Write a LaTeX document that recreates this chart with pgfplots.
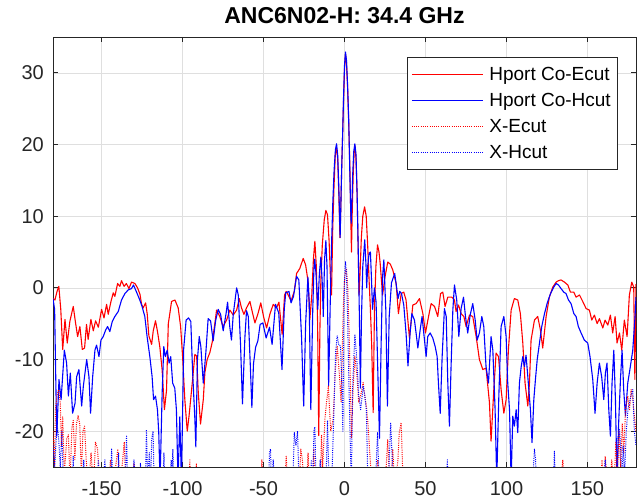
\documentclass[border=0pt]{standalone}
\usepackage{pgfplots}
\pgfplotsset{compat=1.18}
\usepackage{fontspec}
\setmainfont{Liberation Sans}
\definecolor{axgray}{RGB}{38,38,38}
\definecolor{gridgray}{RGB}{223,223,223}
\begin{document}
\begin{tikzpicture}
\begin{axis}[
 width=583pt, height=430pt, scale only axis,
 xmin=-180, xmax=180, ymin=-25, ymax=35,
 xtick={-150,-100,...,150}, ytick={-20,-10,...,30},
 grid=major, major grid style={gridgray, line width=0.6pt},
 axis line style={axgray, line width=0.7pt},
 tick style={axgray, line width=0.7pt},
 tick align=inside, major tick length=5pt,
 ticklabel style={font=\fontsize{20}{24}\selectfont, text=axgray},
 /pgf/number format/assume math mode=true,
 xticklabel style={inner sep=0pt, yshift=-14pt},
 yticklabel style={inner sep=0pt, xshift=-9pt},
 title={ANC6N02-H: 34.4 GHz},
 title style={font=\bfseries\fontsize{23}{27}\selectfont, at={(0.5,1)}, anchor=base, yshift=7pt, inner sep=0pt},
 legend style={at={(0.607,0.953)}, anchor=north west, draw=axgray, line width=0.7pt, fill=white,
   inner xsep=4pt, inner ysep=4pt, row sep=0pt, column sep=3pt,
   font=\fontsize{19}{22}\selectfont,
   nodes={inner xsep=3pt, inner ysep=5pt, text height=14pt, text depth=2pt}},
 legend cell align=left,
 legend image code/.code={\path (0pt,0pt) -- (9pt,0pt); \draw[#1] (9pt,0pt) -- (71pt,0pt);},
]
\addplot[color=red, line width=1.1pt, line join=round] coordinates {
(-180,-1.5)(-178.8,-1.7)(-177.5,-0.5)(-176.4,0.2)(-175.2,-3)(-174,-8.6)(-172.6,-4.4)(-171.2,-7.7)(-169.6,-4.7)(-167.5,-2.6)
(-166,-5)(-164.8,-6.8)(-163.4,-5.4)(-161.9,-8.6)(-160.5,-8.4)(-159.3,-5.1)(-158.3,-7.2)(-156.6,-4.4)(-155.1,-6)(-153.7,-4.6)
(-152,-5.5)(-150,-3)(-148.5,-4.2)(-146.9,-2.3)(-145.9,-3.7)(-144.2,-1.9)(-142.8,-0.7)(-141.8,-1.2)(-140.1,0.6)(-138.7,0.2)
(-137.7,1.0)(-136.1,0.2)(-134.7,0.6)(-133.1,-0.1)(-131.5,0.8)(-129.4,0.6)(-127.8,0)(-126.3,-0.9)(-125.3,-2.3)(-124.3,-2.8)
(-122.8,-2.1)(-121.8,-3.7)(-120.8,-6.7)(-119.1,-7.9)(-118.1,-6)(-116.7,-4.6)(-115.4,-6.2)(-114,-8.3)(-112.6,-11.5)(-111.2,-17)
(-109.9,-14.3)(-108.8,-5)(-107.8,-3.5)(-106.8,-1.9)(-104.7,-1.7)(-102.7,-2.8)(-101.2,-5.4)(-100,-9.5)(-98.6,-15.6)(-97.1,-20)
(-96,-17.9)(-94.4,-14.2)(-93.4,-11.8)(-92.4,-9.3)(-91.3,-9.5)(-90.3,-14.6)(-88.9,-19)(-87.2,-15.6)(-86.2,-11.8)(-84.8,-10)
(-83.1,-9)(-81.7,-7.6)(-80,-4.9)(-79,-3.1)(-77,-4)(-75,-5.4)(-72.8,-4.5)(-70.8,-3.1)(-68.7,-3.8)(-66.6,-3.1)
(-65,-1.5)(-63.6,-2.8)(-62.1,-3.7)(-60.5,-2.8)(-58.4,-1.9)(-56.8,-3.5)(-55.3,-4.9)(-53.3,-3.5)(-51.7,-2.1)(-49.8,-4.2)
(-48.1,-5.6)(-46.1,-3.7)(-44,-2.3)(-42,-2.8)(-40.5,-2.0)(-38.5,-6.5)(-37,-1)(-36,-0.5)(-34.8,-1)(-33,-1.8)
(-31,-0.5)(-29.6,2.0)(-27.6,2.7)(-25.5,4.1)(-24,3.2)(-22.4,0.7)(-21.4,-4.4)(-20.2,-1)(-19.2,4)(-18.3,6.5)
(-17.4,3)(-16.6,-5)(-15.9,-20.6)(-15.2,-6)(-14.6,1)(-13.7,6)(-12.5,9.5)(-11.5,10.8)(-10.5,10.2)(-9.5,6.5)
(-8.7,1.5)(-8,-1)(-7.3,8)(-6.5,14)(-5.7,18.5)(-4.9,19.5)(-4.2,18)(-3.5,13)(-2.8,7)(-2.3,11)
(-1.7,17)(-1.2,21)(-0.6,26)(0,30.5)(0.6,32.6)(1.2,31.5)(1.9,28)(2.6,23)(3.3,17)(3.8,11)
(4.3,5)(4.8,11)(5.4,16)(6,19)(6.5,19.8)(7.1,18)(7.8,13)(8.4,6)(9,-1)(9.6,2)
(10.4,7)(11.3,10)(12.4,11.3)(13.4,10)(14.3,6)(15.2,1)(16,-3)(16.8,-8)(17.7,-17.4)(18.5,-3)
(19.4,3)(20.4,6)(21.3,5)(22,3.5)(23.5,-1)(25,1.5)(26.7,3.6)(28.3,3.3)(29.8,2.5)(31.9,0.6)(33.3,-3.6)(35,-0.8)
(36.6,-0.6)(38,-1.7)(40.1,-7)(42.2,-2.4)(44.2,-2.2)(46.3,-1.5)(48.4,-3.6)(50,-6.3)(51.9,-4)(53.5,-2.2)
(55.6,-2.6)(57.6,-4)(59.3,-0.8)(60.7,-0.6)(62.1,-2.6)(63.8,-1.3)(66.3,-1.3)(67.9,-1.7)(68.9,-3.3)(70.4,-2.4)
(72,-3.6)(73.7,-4)(75.1,-5.4)(77.2,-3.8)(79.2,-4)(81.3,-6.8)(83.3,-10)(85.4,-11.4)(87.4,-11.2)(89.5,-16)
(90.5,-21.4)(92.2,-14.2)(93.6,-9.1)(95.1,-9.6)(96.7,-14.2)(98.4,-17.5)(99.8,-15.6)(101.2,-8.7)(102.9,-3.1)(104.9,-1.5)
(107,-1.7)(108.6,-3.6)(110.1,-7.7)(111.5,-13.3)(113.2,-16.5)(114.2,-13.3)(115.2,-7.3)(117.3,-4.5)(119.3,-4)(121,-5.9)
(122.4,-8.4)(124.5,-4)(126.5,-1.3)(128.6,0.1)(130.7,0.8)(132.1,1)(133.7,1.1)(135.8,0.8)(137.9,0.4)(139.5,-0.6)
(141.6,-0.6)(143,-1.3)(145.1,-1)(147.1,-1.9)(149.2,-2.9)(151.2,-3.1)(152.7,-4.5)(154.3,-3.8)(156,-5)(157.4,-4.3)
(159.5,-5.6)(160.9,-4.5)(162.6,-5.2)(164.2,-3.8)(165.6,-6.3)(167.1,-4)(168.3,-7.7)(169.8,-6.3)(171.2,-8.7)(172.8,-4.5)
(174.5,-6.8)(175.9,-1)(177.4,0.8)(178.6,0.1)(179.3,-12.8)(180,0.5)
};
\addlegendentry{Hport Co-Ecut}
\addplot[color=blue, line width=1.1pt, line join=round] coordinates {
(-180,-1.5)(-179,-3)(-177.7,-20.7)(-176.3,-12.8)(-175,-15.6)(-173,-8.7)(-171.6,-10.5)(-170.5,-15.1)(-169.3,-11.9)(-167.9,-17.5)
(-166.4,-16.1)(-165.4,-12.4)(-164,-11.4)(-162.3,-16.5)(-161.3,-13.8)(-159.2,-10)(-157.8,-12.4)(-156.8,-17.5)(-155.5,-12.4)(-154.1,-8.7)
(-153.1,-8)(-151.6,-9.6)(-150.4,-7.3)(-149,-6.8)(-147.5,-5.9)(-146.3,-5.4)(-144.9,-6.1)(-143.4,-4.7)(-141.8,-4)(-139.7,-3.3)
(-137.7,-1.7)(-135.6,-0.8)(-133.6,-0.3)(-131.5,-0.1)(-130.3,0.4)(-128.4,-0.6)(-126.4,-1.7)(-125,-2.6)(-123.3,-4)(-121.9,-6.8)
(-120.2,-9.6)(-118.8,-12.4)(-117.9,-15.6)(-116.7,-15.1)(-115.5,-17)(-114.7,-20.2)(-113.9,-27)(-112.6,-14.7)(-111.6,-8.2)(-110.6,-9.6)
(-109.5,-8.7)(-108.3,-10.5)(-107.3,-9.6)(-106.1,-13.3)(-104.8,-14)(-103.8,-17)(-102.8,-27)(-101.7,-18)(-100.7,-27)(-99.3,-8.5)
(-97.8,-4.5)(-96.3,-4.2)(-94.9,-4.7)(-93.8,-11.7)(-92.4,-18.3)(-91.8,-22.2)(-90.8,-10)(-89.7,-6.8)(-88.7,-8.2)(-87.2,-13.3)
(-85.6,-9)(-84.2,-4.3)(-82.7,-4.6)(-81.1,-7.4)(-79.6,-4.6)(-78,-3)(-76.5,-3.7)(-74.9,-6)(-73.2,-3.7)(-72.2,-2)
(-70.8,-5.5)(-69.8,-7.3)(-68.7,-3.7)(-66.6,0)(-65.6,-1)(-64.2,-7.9)(-63,-16.2)(-61.5,-6.9)(-60.5,-3.2)(-59.4,-4)
(-58.2,-10.6)(-57.2,-16.7)(-56.2,-10.6)(-54.9,-8.3)(-53.5,-7.4)(-52.1,-5.1)(-50.4,-4.9)(-48.4,-7)(-46.3,-5.5)(-44.7,-7.9)
(-42.6,-2.3)(-40.6,-3.5)(-38.6,-11.4)(-37.2,-3)(-36.3,-0.7)(-34.3,-0.5)(-33,-2.1)(-31.5,-1.2)(-29.6,1.6)(-28.2,1.1)
(-26.5,-7)(-25.2,-16.5)(-24,-5)(-22.6,1.5)(-21.8,-2)(-20.8,-17)(-19.6,-3)(-18.9,2.5)(-18.4,4)(-17.6,2)
(-16.5,-3)(-15.5,2)(-14.6,4.3)(-13.8,1)(-13.1,-4)(-12.3,4)(-11.5,6.6)(-10.8,3)(-9.8,-13.7)(-8.8,-2)
(-8,6)(-7.2,12)(-6.4,16.5)(-5.6,19.3)(-4.9,20.1)(-4.2,18.5)(-3.5,14)(-2.7,7)(-2.3,11)(-1.7,17)
(-1.2,21)(-0.6,26.5)(0,31)(0.6,32.9)(1.2,31.8)(1.9,28.3)(2.6,23.5)(3.2,17)(3.7,12)(4.1,9)
(4.6,12)(5.1,16)(5.7,19)(6.4,20.1)(7.1,18.6)(7.8,13)(8.5,5)(9.2,-4)(9.8,-14)(10.5,-4)
(11.3,3)(12.5,6.7)(13.3,3)(13.7,0)(14.3,3)(15.2,4.8)(16,5)(16.7,1)(17.3,-3)(18.5,0)
(19.5,-2)(21.6,-21)(22.6,-8)(23.5,1.5)(24.3,3.9)(25.5,-3)(26.5,-16.5)(27.6,-4)(29,0.7)(31,2)(33.1,-1.5)
(34.1,-0.5)(35.2,-0.8)(36.6,-2.4)(38,-6.3)(39.2,-10.9)(40.5,-6.3)(41.6,-3.6)(43.2,-4.5)(44.2,-6.3)(45.3,-8.4)
(46.7,-5.9)(47.9,-4)(49.4,-7.3)(50.4,-9.6)(51.4,-6.8)(52.9,-6.3)(54.5,-7)(56,-8.2)(57.2,-9.6)(58,-13.3)
(59.1,-17.5)(60.3,-9.6)(61.7,-2.9)(62.8,-4)(63.8,-13.3)(64.8,-19.3)(65.8,-11)(66.9,-3.1)(67.9,0.4)(69.3,-1.7)
(70.6,-6.8)(72,-2.9)(73.5,-1.3)(74.7,-4)(76.1,-6.3)(77.6,-3.8)(79.2,-2.2)(80.7,-4.5)(81.9,-7.3)(83.3,-6.3)
(84.8,-4)(86,-5.4)(87.4,-11)(88.9,-13.3)(90.5,-6.8)(91.6,-8.7)(93,-17)(94,-27)(95.3,-15.1)(96.7,-5.4)
(98.4,-4)(99.8,-6.8)(100.8,-13.3)(101.9,-17)(102.9,-27)(103.9,-17.9)(104.9,-19.3)(106,-17)(107,-20.2)(108,-13.3)
(109.1,-11)(110.1,-9.6)(111.1,-11)(112.1,-9.4)(113.2,-12.4)(114.8,-17)(115.8,-21.6)(116.9,-15.6)(117.9,-12.8)(119,-10)
(120.4,-7.7)(121.8,-5.4)(123.5,-3.6)(125.1,-2.2)(127.2,-0.8)(129.2,0.1)(130.7,0.6)(132.1,0.4)(133.7,-0.1)(135.4,-0.6)
(136.8,-0.8)(138.3,-1.7)(139.9,-2.2)(141.6,-3.6)(143,-4)(144.4,-5.4)(146.1,-6.3)(148.1,-7.3)(150.2,-7.7)(151.6,-9.6)
(153.3,-12.8)(154.7,-17.5)(156,-13.3)(157.4,-10.5)(158.8,-12.4)(160.1,-15.6)(161.1,-11.9)(162.1,-10.5)(163.2,-17)(164.2,-20.7)
(165.2,-13.3)(166.3,-8.7)(167.3,-15.6)(168.3,-27)(169.3,-18.8)(170.4,-12.8)(171.4,-8.7)(172.4,-14.2)(173.5,-17.9)(174.9,-13.3)
(176.5,-11)(178,-8.7)(179.4,-4)(180,-1.3)
};
\addlegendentry{Hport Co-Hcut}
\addplot[color=red, line width=1pt, dash pattern=on 1pt off 1.2pt, line join=round] coordinates {
(-180,-20)(-179,-25)(-178.5,-17)(-177.5,-15)(-176.5,-14.2)(-175.5,-16)(-174.8,-22)(-174,-18)(-173,-26)(-171.5,-21)
(-170.5,-20.5)(-169.5,-27)(-168.3,-19.5)(-167.5,-18.5)(-166.5,-24)(-165.5,-19)(-164.5,-17.8)(-163.5,-19)(-162.5,-26)(-161.5,-20)
(-160.5,-19.3)(-159.5,-24)(-158,-28)(-156.5,-23)(-155,-28)(-153.8,-21.5)(-152.5,-22.5)(-151,-28)(-146,-28)(-144.5,-24)
(-143,-28)(-140,-22.5)(-138.5,-28)(-136,-21.5)(-135,-28)(-131,-28)(-130,-24.5)(-129,-28)(-96,-28)(-95.5,-24)
(-95,-28)(-92,-28)(-91.5,-24.5)(-91,-28)(-52,-28)(-51,-24)(-50,-28)(-37,-28)(-36,-23.5)(-35,-28)
(-28,-28)(-27,-22.5)(-26,-24)(-25,-28)(-23.5,-28)(-22.5,-23)(-21.5,-28)(-20,-28)(-19,-22.5)(-18,-28)
(-15,-28)(-14.2,-20.6)(-13.5,-25)(-12,-18)(-10,-13.7)(-8.5,-20)(-7,-18.3)(-5.8,-12)(-4.5,-8.1)(-3.2,-12)
(-2.1,-16)(-1.2,-7)(-0.5,-1)(0.3,1.8)(1.2,2.7)(2,0)(2.7,-5)(3.5,-12)(4.3,-21)(5.3,-14)(6.4,-9.6)(7.6,-12)
(8.8,-16)(10,-15)(11.5,-13.2)(12.5,-15)(13.5,-16.5)(14.5,-19)(15.6,-23)(17,-28)(19.5,-28)(20.5,-24)
(21.5,-28)(25,-28)(26.7,-21.2)(28,-28)(29,-26)(29.8,-22.5)(31,-28)(33,-24)(33.8,-20.2)(35,-18.8)
(36,-26)(37,-28)(133,-28)(134.8,-24)(136,-28)(158,-28)(159,-24)(160,-28)(161,-23.5)(162.5,-28)
(164,-28)(165,-24)(166.5,-28)(167.5,-21.6)(168.5,-26)(169.5,-20)(170.5,-25)(171.5,-19)(172.5,-23)(173.5,-17)
(174.9,-15.1)(176,-17)(177,-14.2)(178,-15.5)(179,-17.9)(180,-20)
};
\addlegendentry{X-Ecut}
\addplot[color=blue, line width=1pt, dash pattern=on 1pt off 1.2pt, line join=round] coordinates {
(-180,-22)(-179,-25)(-177.5,-19)(-176.5,-21)(-175.5,-25)(-174.5,-20)(-173.5,-28)(-168,-28)(-167.5,-23.5)(-167,-28)
(-162,-28)(-161,-24)(-160,-28)(-153,-28)(-152,-24)(-151,-28)(-149,-28)(-148,-24)(-147,-28)(-144.5,-28)
(-143.8,-22.5)(-143,-28)(-140,-28)(-139.5,-23)(-139,-28)(-135.5,-28)(-134.6,-20.7)(-133.8,-28)(-131,-28)(-130,-24)
(-129,-28)(-127,-28)(-126,-24.5)(-125,-28)(-123,-28)(-122.3,-19.8)(-121.5,-27)(-120.5,-23)(-119.8,-28)(-119,-21)
(-118.2,-20)(-117.5,-28)(-112,-28)(-111.5,-23)(-111,-28)(-108,-28)(-107,-24)(-106.5,-28)(-106,-22.5)(-105.5,-28)
(-47,-28)(-46.3,-23)(-45.7,-22.5)(-45,-28)(-44,-24)(-43,-28)(-32,-28)(-31,-20.2)(-30,-22)(-29,-20)
(-28,-28)(-21,-28)(-20.5,-24)(-19.5,-28)(-18.9,-20)(-18.3,-19.4)(-17.5,-28)(-16,-28)(-15,-24)(-14,-28)
(-11.5,-28)(-10.5,-18.5)(-9.5,-28)(-8,-28)(-6.5,-17)(-5.5,-9)(-4.5,-6.7)(-3.5,-8)(-2.5,-8.1)(-1.7,-13)
(-1,-20)(-0.5,-6)(0,1)(0.6,3.7)(1.2,2)(1.8,-3)(2.6,-12)(3.3,-19)(4.2,-28)(5,-14)(6.4,-6.5)(7.6,-10)
(8.8,-15)(10,-17)(11.5,-13.7)(12.5,-15)(13.5,-17.2)(14.5,-28)(19,-28)(20.4,-20.2)(21.5,-28)(27,-28)
(28.5,-18.8)(29.5,-24)(30,-28)(63,-28)(63.5,-24)(64,-28)(116,-28)(117.3,-22.5)(118,-24)(118.5,-28)
(129,-28)(129.6,-22.8)(130.3,-28)(160,-28)(161,-24)(162,-28)(168,-28)(169,-21)(169.8,-19.8)(170.5,-22)
(171.3,-28)(172,-22)(173,-26)(174,-20)(175,-17)(176,-16)(177,-15)(178,-14.2)(179,-20)(180,-22)
};
\addlegendentry{X-Hcut}
\end{axis}
\path ([shift={(-53pt,-35pt)}]current axis.south west) rectangle ([shift={(3pt,37pt)}]current axis.north east);
\end{tikzpicture}
\end{document}
